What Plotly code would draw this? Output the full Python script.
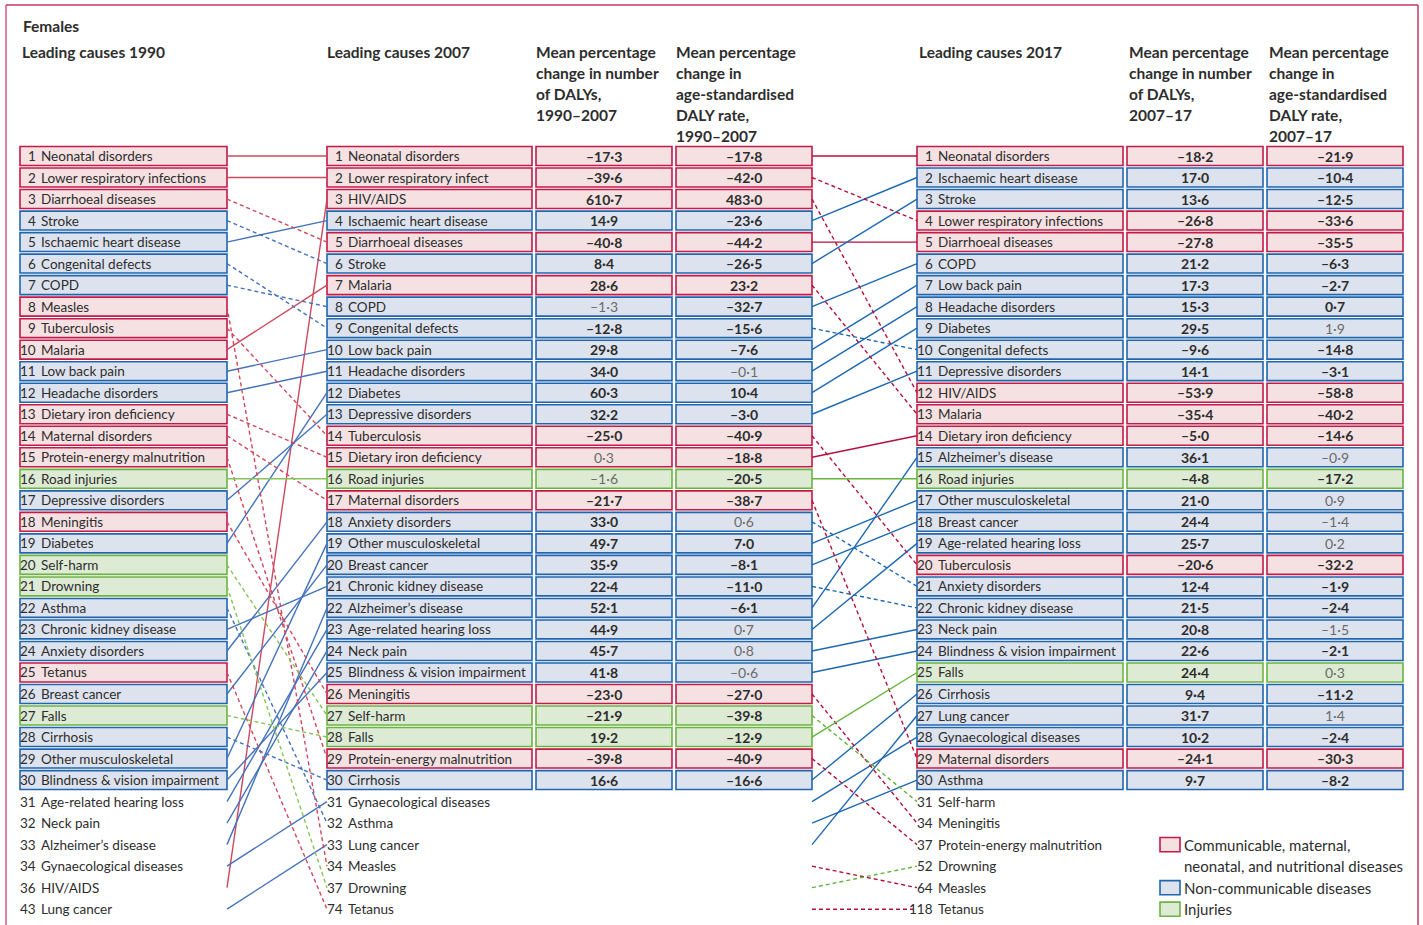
import plotly.graph_objects as go

# ---------------- DATA ----------------
title = "Females"
head_1990 = "Leading causes 1990"
head_2007 = "Leading causes 2007"
head_2017 = "Leading causes 2017"
head_num_07 = ["Mean percentage", "change in number", "of DALYs,", "1990–2007"]
head_rate_07 = ["Mean percentage", "change in", "age-standardised", "DALY rate,", "1990–2007"]
head_num_17 = ["Mean percentage", "change in number", "of DALYs,", "2007–17"]
head_rate_17 = ["Mean percentage", "change in", "age-standardised", "DALY rate,", "2007–17"]

names_1990 = ["Neonatal disorders", "Lower respiratory infections", "Diarrhoeal diseases", "Stroke",
              "Ischaemic heart disease", "Congenital defects", "COPD", "Measles", "Tuberculosis", "Malaria",
              "Low back pain", "Headache disorders", "Dietary iron deficiency", "Maternal disorders",
              "Protein-energy malnutrition", "Road injuries", "Depressive disorders", "Meningitis", "Diabetes",
              "Self-harm", "Drowning", "Asthma", "Chronic kidney disease", "Anxiety disorders", "Tetanus",
              "Breast cancer", "Falls", "Cirrhosis", "Other musculoskeletal", "Blindness & vision impairment",
              "Age-related hearing loss", "Neck pain", "Alzheimer’s disease", "Gynaecological diseases",
              "HIV/AIDS", "Lung cancer"]
ranks_1990 = [1, 2, 3, 4, 5, 6, 7, 8, 9, 10, 11, 12, 13, 14, 15, 16, 17, 18, 19, 20,
              21, 22, 23, 24, 25, 26, 27, 28, 29, 30, 31, 32, 33, 34, 36, 43]

names_2007 = ["Neonatal disorders", "Lower respiratory infections", "HIV/AIDS", "Ischaemic heart disease",
              "Diarrhoeal diseases", "Stroke", "Malaria", "COPD", "Congenital defects", "Low back pain",
              "Headache disorders", "Diabetes", "Depressive disorders", "Tuberculosis", "Dietary iron deficiency",
              "Road injuries", "Maternal disorders", "Anxiety disorders", "Other musculoskeletal", "Breast cancer",
              "Chronic kidney disease", "Alzheimer’s disease", "Age-related hearing loss", "Neck pain",
              "Blindness & vision impairment", "Meningitis", "Self-harm", "Falls", "Protein-energy malnutrition",
              "Cirrhosis", "Gynaecological diseases", "Asthma", "Lung cancer", "Measles", "Drowning", "Tetanus"]
ranks_2007 = [1, 2, 3, 4, 5, 6, 7, 8, 9, 10, 11, 12, 13, 14, 15, 16, 17, 18, 19, 20,
              21, 22, 23, 24, 25, 26, 27, 28, 29, 30, 31, 32, 33, 34, 37, 74]
labels_2007 = {"Lower respiratory infections": "Lower respiratory infect"}

names_2017 = ["Neonatal disorders", "Ischaemic heart disease", "Stroke", "Lower respiratory infections",
              "Diarrhoeal diseases", "COPD", "Low back pain", "Headache disorders", "Diabetes",
              "Congenital defects", "Depressive disorders", "HIV/AIDS", "Malaria", "Dietary iron deficiency",
              "Alzheimer’s disease", "Road injuries", "Other musculoskeletal", "Breast cancer",
              "Age-related hearing loss", "Tuberculosis", "Anxiety disorders", "Chronic kidney disease",
              "Neck pain", "Blindness & vision impairment", "Falls", "Cirrhosis", "Lung cancer",
              "Gynaecological diseases", "Maternal disorders", "Asthma", "Self-harm", "Meningitis",
              "Protein-energy malnutrition", "Drowning", "Measles", "Tetanus"]
ranks_2017 = [1, 2, 3, 4, 5, 6, 7, 8, 9, 10, 11, 12, 13, 14, 15, 16, 17, 18, 19, 20,
              21, 22, 23, 24, 25, 26, 27, 28, 29, 30, 31, 34, 37, 52, 64, 118]

communicable = ["Neonatal disorders", "Lower respiratory infections", "Diarrhoeal diseases", "Measles",
                "Tuberculosis", "Malaria", "Dietary iron deficiency", "Maternal disorders",
                "Protein-energy malnutrition", "Meningitis", "Tetanus", "HIV/AIDS"]
injuries = ["Road injuries", "Self-harm", "Drowning", "Falls"]

num_2007 = [-17.3, -39.6, 610.7, 14.9, -40.8, 8.4, 28.6, -1.3, -12.8, 29.8, 34.0, 60.3, 32.2, -25.0, 0.3,
            -1.6, -21.7, 33.0, 49.7, 35.9, 22.4, 52.1, 44.9, 45.7, 41.8, -23.0, -21.9, 19.2, -39.8, 16.6]
rate_2007 = [-17.8, -42.0, 483.0, -23.6, -44.2, -26.5, 23.2, -32.7, -15.6, -7.6, -0.1, 10.4, -3.0, -40.9,
             -18.8, -20.5, -38.7, 0.6, 7.0, -8.1, -11.0, -6.1, 0.7, 0.8, -0.6, -27.0, -39.8, -12.9, -40.9, -16.6]
num_2017 = [-18.2, 17.0, 13.6, -26.8, -27.8, 21.2, 17.3, 15.3, 29.5, -9.6, 14.1, -53.9, -35.4, -5.0, 36.1,
            -4.8, 21.0, 24.4, 25.7, -20.6, 12.4, 21.5, 20.8, 22.6, 24.4, 9.4, 31.7, 10.2, -24.1, 9.7]
rate_2017 = [-21.9, -10.4, -12.5, -33.6, -35.5, -6.3, -2.7, 0.7, 1.9, -14.8, -3.1, -58.8, -40.2, -14.6, -0.9,
             -17.2, 0.9, -1.4, 0.2, -32.2, -1.9, -2.4, -1.5, -2.1, 0.3, -11.2, 1.4, -2.4, -30.3, -8.2]
# ranks (rows) whose change is not significant (shown in light type)
nonsig_num_2007 = [8, 15, 16]
nonsig_rate_2007 = [11, 18, 23, 24, 25]
nonsig_num_2017 = []
nonsig_rate_2017 = [9, 15, 17, 18, 19, 23, 25, 27]

legend_items = [("C", ["Communicable, maternal,", "neonatal, and nutritional diseases"]),
                ("N", ["Non-communicable diseases"]),
                ("I", ["Injuries"])]

# ---------------- STYLE / LAYOUT ----------------
W, H = 1423, 925
ROW0_PX, PITCH = 156.0, 21.52
N_BOX = 30
FONT = "Lato, 'Noto Sans', sans-serif"
LABEL_SIZE = 13.5
HEAD_SIZE = 15.5
LEGEND_SIZE = 15
DARK = "#2d2d2d"
LIGHT = "#6a6a6a"
STYLE = {
    "C": dict(line="#c41a48", fill="#f5e1e2", link_a="#d0485d", link_b="#b5103c"),
    "N": dict(line="#2066ae", fill="#dde3ee", link_a="#4472bd", link_b="#1d68b3"),
    "I": dict(line="#6cb343", fill="#ddebd4", link_a="#86c45a", link_b="#64b33a"),
}
COL_1990 = (20, 227)
COL_2007 = (327, 532)
COL_V07 = [(536, 672), (676, 812)]
COL_2017 = (917, 1123)
COL_V17 = [(1127, 1263), (1267, 1403)]
HALF = 0.44


def group(name):
    if name in communicable:
        return "C"
    if name in injuries:
        return "I"
    return "N"


def paper_y(px):
    return 1 - px / H


def fmt(v):
    s = f"{abs(v):.1f}".replace(".", "·")
    return ("–" + s) if v < 0 else s


annotations = []
shapes = []


def txt(x, y, s, size=LABEL_SIZE, bold=False, color=DARK, xanchor="left", yref="y"):
    annotations.append(dict(x=x, y=y, xref="x", yref=yref, text=("<b>%s</b>" % s) if bold else s,
                            showarrow=False, xanchor=xanchor, yanchor="middle", borderpad=0,
                            font=dict(family=FONT, size=size, color=color)))


def box(x0, x1, pos, g):
    shapes.append(dict(type="rect", xref="x", yref="y", x0=x0, x1=x1, y0=pos - HALF, y1=pos + HALF,
                       line=dict(color=STYLE[g]["line"], width=1.6), fillcolor=STYLE[g]["fill"], layer="below"))


fig = go.Figure()

# headings
txt(22, paper_y(26), title, size=HEAD_SIZE, bold=True, yref="paper")
txt(21, paper_y(52), head_1990, size=HEAD_SIZE, bold=True, yref="paper")
txt(326, paper_y(52), head_2007, size=HEAD_SIZE, bold=True, yref="paper")
txt(918, paper_y(52), head_2017, size=HEAD_SIZE, bold=True, yref="paper")
for x, lines in [(535, head_num_07), (675, head_rate_07), (1128, head_num_17), (1268, head_rate_17)]:
    for k, line in enumerate(lines):
        txt(x, paper_y(52 + 21 * k), line, size=HEAD_SIZE, bold=True, yref="paper")


def cause_column(names, ranks, col, labels=None):
    x0, x1 = col
    for i, (nm, rk) in enumerate(zip(names, ranks)):
        pos = i + 1
        g = group(nm)
        if pos <= N_BOX:
            box(x0, x1, pos, g)
        txt(x0 + 16.5, pos, str(rk), xanchor="right")
        txt(x0 + 19.5, pos, (labels or {}).get(nm, nm))


cause_column(names_1990, ranks_1990, COL_1990)
cause_column(names_2007, ranks_2007, COL_2007, labels_2007)
cause_column(names_2017, ranks_2017, COL_2017)


def value_columns(names, cols, series, nonsig):
    for (x0, x1), vals, ns in zip(cols, series, nonsig):
        for i, v in enumerate(vals):
            pos = i + 1
            box(x0, x1, pos, group(names[i]))
            sig = pos not in ns
            txt((x0 + x1) / 2, pos, fmt(v), size=14, bold=sig, color=DARK if sig else LIGHT, xanchor="center")


value_columns(names_2007, COL_V07, [num_2007, rate_2007], [nonsig_num_2007, nonsig_rate_2007])
value_columns(names_2017, COL_V17, [num_2017, rate_2017], [nonsig_num_2017, nonsig_rate_2017])

# connectors
links = {}


def connect(prev_names, prev_ranks, next_names, next_ranks, xa, xb, key):
    for j, nm in enumerate(next_names):
        if nm not in prev_names:
            continue
        i = prev_names.index(nm)
        dash = "solid" if next_ranks[j] <= prev_ranks[i] else "dash"
        color = STYLE[group(nm)][key]
        d = links.setdefault((color, dash), ([], []))
        d[0].extend([xa, xb, None])
        d[1].extend([i + 1, j + 1, None])


connect(names_1990, ranks_1990, names_2007, ranks_2007, COL_1990[1], COL_2007[0], "link_a")
connect(names_2007, ranks_2007, names_2017, ranks_2017, COL_V07[1][1], COL_2017[0], "link_b")
for (color, dash), (xs, ys) in links.items():
    fig.add_trace(go.Scatter(x=xs, y=ys, mode="lines", hoverinfo="skip", showlegend=False,
                             line=dict(color=color, width=1.4, dash="4px,3px" if dash == "dash" else "solid")))

# legend
LEG_X0, LEG_X1 = 1160, 1180
pos = 33
for g, lines in legend_items:
    shapes.append(dict(type="rect", xref="x", yref="y", x0=LEG_X0, x1=LEG_X1, y0=pos - 0.33, y1=pos + 0.33,
                       line=dict(color=STYLE[g]["line"], width=1.6), fillcolor=STYLE[g]["fill"]))
    for k, line in enumerate(lines):
        txt(1183, pos + k * 0.97, line, size=LEGEND_SIZE)
    pos += len(lines)

# frame
shapes.append(dict(type="line", xref="paper", yref="paper", x0=6 / W, x1=6 / W, y0=paper_y(5), y1=0,
                   line=dict(color="#e2869c", width=2)))
shapes.append(dict(type="line", xref="paper", yref="paper", x0=6 / W, x1=1418 / W, y0=paper_y(5), y1=paper_y(5),
                   line=dict(color="#c9385e", width=1.5)))
shapes.append(dict(type="line", xref="paper", yref="paper", x0=1418 / W, x1=1418 / W, y0=paper_y(5), y1=0,
                   line=dict(color="#c9385e", width=1.5)))

fig.update_layout(
    width=W, height=H, margin=dict(l=0, r=0, t=0, b=0),
    paper_bgcolor="white", plot_bgcolor="white",
    xaxis=dict(range=[0, W], visible=False, fixedrange=True),
    yaxis=dict(range=[1 + (H - ROW0_PX) / PITCH, 1 - ROW0_PX / PITCH], visible=False, fixedrange=True),
    shapes=shapes, annotations=annotations, showlegend=False,
)
fig.write_html("out.html", config={"displayModeBar": False},
               post_script="document.body.style.margin='0';document.body.style.overflow='hidden';")
